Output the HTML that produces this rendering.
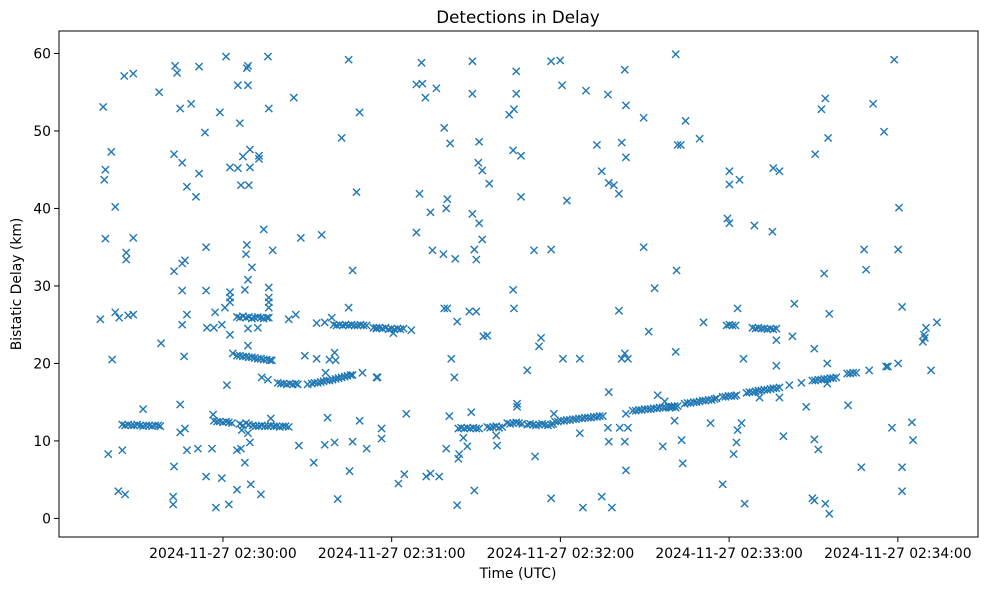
<!DOCTYPE html>
<html><head><meta charset="utf-8"><title>Detections in Delay</title>
<style>
html,body{margin:0;padding:0;background:#fff;}
svg{display:block;font-family:"DejaVu Sans","Liberation Sans",sans-serif;}
</style></head>
<body>
<svg id="chart" width="989" height="590" viewBox="0 0 989 590">
<rect x="0" y="0" width="989" height="590" fill="#fff"/>
<text x="518" y="23" text-anchor="middle" font-size="16.7" fill="#000">Detections in Delay</text>
<text x="518" y="578" text-anchor="middle" font-size="13.9" fill="#000">Time (UTC)</text>
<text x="0" y="0" transform="translate(21,284) rotate(-90)" text-anchor="middle" font-size="13.9" fill="#000">Bistatic Delay (km)</text>
<g id="marks"></g>
<g id="axes"></g>
</svg>
<script>
// seconds after 2024-11-27 02:30:00 UTC
const times = [
-42.6,-35.1,-31.9,-39.7,-41.8,-42.2,-38.3,-22.7,-17.0,-16.3,-8.5,1.1,8.9,8.5,5.3,8.9,16.0,44.7,-15.2,-11.3,-1.1,16.3,25.2,48.6,6.0,-6.4,42.2,-17.4,-14.5,-8.5,9.6,7.1,12.8,12.8,2.5,5.3,9.6,-12.8,-9.6,6.4,9.2,47.5,-41.8,-31.9,-34.4,-34.4,14.5,27.7,35.1,-6.0,8.5,8.2,17.7,-17.4,-14.5,-13.5,10.3,46.1,8.9,7.8,-14.5,-6.0,16.3,16.3,16.3,16.3,2.5,2.5,2.5,44.7,-43.6,-38.3,-36.9,-33.7,-31.9,-12.8,-14.5,-2.8,0.7,-5.7,-3.2,-0.4,
5.0,6.0,7.1,8.2,9.2,10.3,11.3,12.4,13.5,14.5,15.6,
2.5,8.9,12.4,23.4,25.9,16.3,33.3,36.2,38.7,
39.4,40.4,41.5,42.6,43.6,44.7,45.7,46.8,47.9,48.9,50.0,51.1,54.6,
53.5,54.6,55.7,56.7,57.8,58.9,59.9,61.0,62.1,63.1,64.2,60.6,67.0,
-22.0,-39.4,-13.8,8.9,3.5,
5.0,6.0,7.1,8.2,9.2,10.3,11.3,12.4,13.5,14.5,15.6,16.7,17.4,
29.1,33.3,37.9,39.7,40.1,1.4,13.8,16.0,
19.5,20.6,21.6,22.7,23.8,24.8,25.9,26.6,30.1,
31.6,32.6,33.7,34.8,35.8,36.9,37.9,39.0,40.1,41.1,42.2,43.3,44.3,45.4,46.1,
36.5,49.6,54.6,-28.4,-15.2,
-35.8,-34.8,-33.7,-32.6,-31.6,-30.5,-29.4,-28.4,-27.3,-26.2,-25.2,-24.1,-23.0,-22.3,
-3.5,-3.2,-2.1,-1.1,0,1.1,2.1,3.2,6.0,7.1,8.2,9.2,
10.6,11.7,12.8,13.8,14.9,16.0,17.0,18.1,19.1,20.2,21.3,22.3,23.4,
17.0,-15.2,-13.5,6.7,8.9,9.6,37.2,48.6,-40.8,-35.8,-12.8,-8.9,-3.9,5.0,6.4,7.8,27.0,36.2,39.7,46.1,51.1,-17.4,32.3,45.0,-6.0,-0.4,5.0,9.9,13.5,-37.2,-34.8,-17.7,-17.7,-2.5,2.1,40.8,
70.6,88.7,116.7,119.9,161.0,68.8,70.9,75.9,72.0,88.7,104.3,104.3,120.6,129.1,136.9,142.9,143.3,149.6,101.8,103.5,78.7,80.8,91.1,133.0,141.8,143.3,161.7,103.2,106.0,90.8,92.2,94.7,134.7,137.2,139.0,140.8,69.9,106.0,122.3,79.8,79.4,73.8,88.7,91.1,68.8,92.2,74.5,78.4,82.6,89.4,90.1,110.6,116.7,149.6,161.3,153.5,103.2,103.5,78.7,79.8,87.6,90.1,140.8,83.3,92.6,94.0,113.1,112.4,151.4,81.2,120.9,126.9,141.8,142.9,144.0,161.0,108.2,55.0,82.3,137.2,65.2,80.5,88.3,104.6,104.6,117.7,154.6,157.1,
83.7,84.7,85.8,86.9,87.9,89.0,90.1,91.1,94.0,95.0,96.1,97.2,98.2,99.3,101.1,102.1,103.2,104.3,105.3,106.4,
108.2,109.2,110.3,111.3,112.4,113.5,114.5,115.6,116.7,117.4,
118.1,119.1,120.2,121.3,122.3,123.4,124.5,125.5,126.6,127.7,128.7,129.8,130.8,131.9,133.0,134.0,135.1,
145.7,146.8,147.9,148.9,150.0,151.1,152.1,153.2,154.3,155.3,156.4,157.4,158.5,159.6,160.6,161.7,
136.9,141.1,144.0,143.3,160.6,56.4,56.4,97.2,97.5,86.9,85.5,79.4,84.0,83.7,126.9,137.2,142.9,156.4,111.0,143.3,62.4,64.5,72.3,73.8,76.9,89.4,83.3,116.7,128.0,134.7,138.3,
238.7,214.2,212.8,231.2,164.5,162.8,169.5,215.2,235.1,210.6,180.1,180.1,183.7,195.7,197.9,240.4,179.4,180.1,189.0,195.4,228.0,240.1,228.7,213.8,183.0,203.2,241.5,215.6,170.9,
179.1,180.1,181.2,182.3,188.3,189.4,190.4,191.5,192.5,193.6,194.7,195.7,196.8,
196.8,202.5,250.0,253.9,249.3,248.9,249.6,210.3,185.1,196.8,214.9,240.1,251.8,
158.9,159.9,161.0,164.2,165.2,166.3,167.4,168.4,169.5,170.6,171.6,172.7,173.8,174.8,175.5,
177.7,178.7,179.8,180.8,181.9,182.6,
186.2,187.2,188.3,189.4,190.4,191.5,192.5,193.6,194.7,195.7,196.8,197.9,201.4,205.7,
209.6,210.6,211.7,212.8,213.8,214.9,216.0,217.0,218.1,222.0,223.0,224.1,225.2,229.8,235.8,236.5,
190.8,197.9,214.9,207.4,222.3,173.4,184.4,183.0,237.9,245.0,163.1,182.6,199.3,210.3,211.7,245.4,181.6,163.5,227.0,241.5,177.7,241.5,185.5,209.6,210.3,214.2,215.6
];
// bistatic delay in km
const delays = [
53.1,57.1,57.4,47.3,45.0,43.7,40.2,55.0,58.4,57.5,58.3,59.6,58.4,58.1,55.9,55.9,59.6,59.2,52.9,53.5,52.4,52.9,54.3,52.4,51.0,49.8,49.1,47.0,45.9,44.5,47.6,46.7,46.4,46.8,45.3,45.2,45.3,42.8,41.5,43.0,43.0,42.1,36.1,36.2,34.3,33.4,37.3,36.2,36.6,35.0,35.3,34.1,34.6,31.9,32.9,33.3,32.4,32.0,30.8,29.5,29.4,29.4,29.8,28.5,27.9,27.2,29.2,28.5,27.9,27.2,25.7,26.6,25.9,26.2,26.3,26.3,25.0,26.6,27.2,24.6,24.6,25.0,
26.0,25.9,26.1,25.9,26.0,25.8,25.9,26.0,25.9,25.8,25.9,
23.7,24.5,24.6,25.7,26.3,25.9,25.2,25.3,25.9,
25.0,24.9,25.0,24.9,25.0,24.9,25.0,24.9,24.9,25.0,24.9,24.9,24.6,
24.6,24.5,24.6,24.5,24.6,24.4,24.5,24.4,24.5,24.4,24.5,23.9,24.3,
22.6,20.5,20.9,22.3,21.3,
21.0,21.0,20.9,20.9,20.8,20.8,20.7,20.6,20.6,20.5,20.5,20.4,20.4,
21.0,20.6,20.5,21.4,20.4,17.2,18.2,17.9,
17.5,17.4,17.4,17.3,17.4,17.3,17.4,17.3,17.3,
17.4,17.5,17.5,17.6,17.7,17.8,17.8,17.9,18.0,18.1,18.2,18.3,18.4,18.5,18.5,
18.8,18.8,18.2,14.1,14.7,
12.1,12.0,12.1,12.0,12.0,12.1,12.0,11.9,12.0,12.0,11.9,12.0,12.0,11.9,
13.4,12.6,12.5,12.5,12.4,12.5,12.4,12.3,12.2,12.0,12.3,12.1,
12.0,11.9,11.9,12.0,11.9,11.9,12.0,11.9,11.9,11.8,11.9,11.9,11.8,
12.9,11.1,11.6,11.4,11.0,9.8,13.0,12.6,8.3,8.8,8.8,9.0,9.0,8.8,9.0,7.2,9.4,9.5,9.8,9.9,9.0,6.7,7.2,6.1,5.4,5.2,3.7,4.4,3.1,3.5,3.1,2.8,1.8,1.4,1.8,2.5,
58.8,59.0,59.0,59.1,59.9,56.0,56.1,55.5,54.3,54.8,57.7,54.8,55.9,55.2,54.7,57.9,53.3,51.7,52.1,52.8,50.4,48.4,48.6,48.2,48.5,46.6,48.2,47.5,46.8,45.9,44.9,43.2,44.8,43.3,43.0,41.9,41.9,41.5,41.0,41.2,40.0,39.5,39.3,38.1,36.9,36.0,34.6,34.1,33.5,34.7,33.4,34.6,34.7,35.0,32.0,29.7,29.5,27.1,27.1,27.1,26.7,26.7,26.8,25.4,23.5,23.6,23.3,22.2,24.1,20.6,20.6,20.6,20.6,21.3,20.6,21.5,19.1,18.2,18.2,16.3,13.5,13.2,13.7,14.8,14.4,13.5,15.9,15.1,
11.6,11.7,11.6,11.7,11.6,11.7,11.6,11.6,11.8,11.7,11.8,11.9,11.7,11.8,12.3,12.2,12.3,12.4,12.3,12.2,
12.1,12.2,12.1,12.0,12.1,12.2,12.1,12.0,12.1,12.2,
12.5,12.5,12.6,12.6,12.7,12.7,12.8,12.8,12.9,12.9,13.0,13.0,13.0,13.1,13.1,13.2,13.2,
13.9,13.9,14.0,14.0,14.1,14.1,14.1,14.2,14.2,14.3,14.3,14.3,14.4,14.4,14.5,14.5,
11.7,11.7,11.7,13.5,12.6,11.6,10.3,10.7,9.4,9.3,10.4,9.0,8.3,7.7,11.0,9.9,9.9,9.3,8.0,6.2,4.5,5.7,5.4,5.8,5.4,3.6,1.7,2.6,1.4,2.8,1.4,
59.2,54.2,52.8,53.5,51.3,48.2,49.0,49.1,49.9,47.0,44.8,43.1,43.7,45.2,44.8,40.1,38.7,38.1,37.8,37.0,34.7,34.7,32.1,31.6,27.1,27.7,27.3,26.4,25.3,
24.9,25.0,24.9,24.9,24.6,24.5,24.6,24.5,24.5,24.4,24.5,24.4,24.5,
23.0,23.5,24.6,25.3,23.7,22.8,23.3,21.9,20.6,19.7,20.0,20.0,19.1,
14.3,14.4,14.3,14.8,14.9,14.9,15.0,15.0,15.1,15.2,15.2,15.3,15.3,15.4,15.5,
15.7,15.7,15.8,15.8,15.8,15.9,
16.2,16.3,16.3,16.4,16.5,16.5,16.6,16.6,16.7,16.8,16.8,16.9,17.2,17.5,
17.8,17.8,17.9,17.9,18.0,18.0,18.1,18.1,18.2,18.7,18.7,18.8,18.8,19.1,19.6,19.6,
15.6,15.6,17.4,14.4,14.6,12.3,12.3,11.4,11.7,12.4,10.1,9.8,10.6,10.2,8.9,10.1,8.3,7.1,6.6,6.6,4.4,3.5,1.9,2.6,2.3,1.9,0.6
];
const yTicks = [0,10,20,30,40,50,60];
const xTickSeconds = [0,60,120,180,240];
const xTickLabels = ["2024-11-27 02:30:00","2024-11-27 02:31:00","2024-11-27 02:32:00","2024-11-27 02:33:00","2024-11-27 02:34:00"];

const NS = "http://www.w3.org/2000/svg";
const plot = {left:59, right:978, top:31, bottom:537};
const xDom = [-58.3, 268.5], yDom = [-2.4, 62.9];
function xScale(t){ return plot.left + (t - xDom[0]) / (xDom[1] - xDom[0]) * (plot.right - plot.left); }
function yScale(d){ return plot.bottom - (d - yDom[0]) / (yDom[1] - yDom[0]) * (plot.bottom - plot.top); }

const marks = document.getElementById('marks');
const n = Math.min(times.length, delays.length);
for (let i = 0; i < n; i++) {
  const cx = xScale(times[i]), cy = yScale(delays[i]), r = 3.6;
  const p = document.createElementNS(NS, 'path');
  p.setAttribute('d', `M${cx-r},${cy-r}L${cx+r},${cy+r}M${cx-r},${cy+r}L${cx+r},${cy-r}`);
  p.setAttribute('stroke', '#1f77b4');
  p.setAttribute('stroke-width', '1.4');
  p.setAttribute('fill', 'none');
  
  
  marks.appendChild(p);
}

const axes = document.getElementById('axes');
const frame = document.createElementNS(NS, 'rect');
frame.setAttribute('x', plot.left); frame.setAttribute('y', plot.top);
frame.setAttribute('width', plot.right - plot.left); frame.setAttribute('height', plot.bottom - plot.top);
frame.setAttribute('fill', 'none'); frame.setAttribute('stroke', '#000'); frame.setAttribute('stroke-width', '1');


axes.appendChild(frame);

yTicks.forEach(v => {
  const y = yScale(v);
  const l = document.createElementNS(NS, 'line');
  l.setAttribute('x1', plot.left - 5); l.setAttribute('x2', plot.left);
  l.setAttribute('y1', y); l.setAttribute('y2', y);
  l.setAttribute('stroke', '#000');
  
  
  axes.appendChild(l);
  const t = document.createElementNS(NS, 'text');
  t.setAttribute('x', plot.left - 8); t.setAttribute('y', y + 5);
  t.setAttribute('text-anchor', 'end'); t.setAttribute('font-size', '13.9');
  t.textContent = String(v);
  
  
  axes.appendChild(t);
});

xTickSeconds.forEach((s, i) => {
  const x = xScale(s);
  const l = document.createElementNS(NS, 'line');
  l.setAttribute('x1', x); l.setAttribute('x2', x);
  l.setAttribute('y1', plot.bottom); l.setAttribute('y2', plot.bottom + 5);
  l.setAttribute('stroke', '#000');
  
  
  axes.appendChild(l);
  const t = document.createElementNS(NS, 'text');
  t.setAttribute('x', x); t.setAttribute('y', plot.bottom + 21);
  t.setAttribute('text-anchor', 'middle'); t.setAttribute('font-size', '13.9');
  t.textContent = xTickLabels[i];
  
  
  axes.appendChild(t);
});
</script>
</body></html>
